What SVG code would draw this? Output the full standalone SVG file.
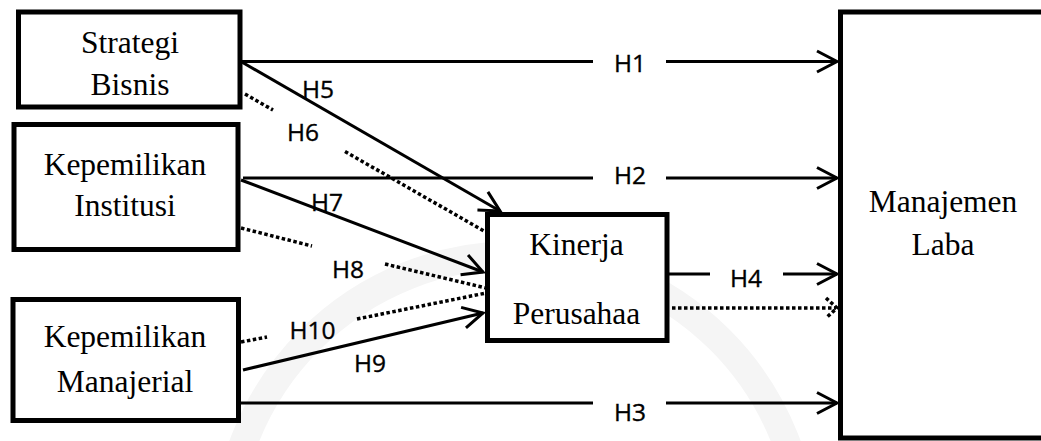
<svg xmlns="http://www.w3.org/2000/svg" width="1041" height="441" viewBox="0 0 1041 441">
  <style>
    .box { fill: #ffffff; stroke: #000000; stroke-width: 5; }
    .name { font-family: "Liberation Serif", "Times New Roman", serif; font-size: 31.5px; fill: #000000; text-anchor: middle; }
    .hyp { font-family: "Open Sans", "Liberation Sans", sans-serif; font-size: 24.5px; fill: #000000; stroke: #000000; stroke-width: 0.35px; text-anchor: middle; }
    .solid { fill: none; stroke: #000000; stroke-width: 3; }
    .dotted { fill: none; stroke: #000000; stroke-width: 3.5; stroke-dasharray: 3.5 2.5; }
  </style>
  <defs>
    <marker id="arrow" markerUnits="userSpaceOnUse" viewBox="-24 -14 28 28" refX="0" refY="0" markerWidth="28" markerHeight="28" orient="auto">
      <path d="M -20 -10.5 L 0 0 L -20 10.5" fill="none" stroke="#000000" stroke-width="3"/>
    </marker>
  </defs>

  <rect width="1041" height="441" fill="#ffffff"/>

  <!-- faint background seal -->
  <circle cx="515" cy="545" r="290" fill="none" stroke="#f5f5f5" stroke-width="28"/>

  <g id="connectors">
    <!-- H1 -->
    <line class="solid" x1="240" y1="61.5" x2="593" y2="61.5"/>
    <line class="solid" x1="666" y1="61.5" x2="837" y2="61.5" marker-end="url(#arrow)"/>
    <!-- H2 -->
    <line class="solid" x1="243" y1="178" x2="593" y2="178"/>
    <line class="solid" x1="666" y1="178" x2="837" y2="178" marker-end="url(#arrow)"/>
    <!-- H3 -->
    <line class="solid" x1="240" y1="403" x2="593" y2="403"/>
    <line class="solid" x1="666" y1="403" x2="837" y2="403" marker-end="url(#arrow)"/>
    <!-- H4 -->
    <line class="solid" x1="669" y1="274" x2="710" y2="274"/>
    <line class="solid" x1="783" y1="274" x2="837" y2="274" marker-end="url(#arrow)"/>
    <!-- moderated path to earnings management -->
    <line class="dotted" x1="672" y1="308" x2="836" y2="308"/>
    <path class="dotted" d="M 826 298 L 837 308 L 826 318"/>
    <!-- H5 -->
    <line class="solid" x1="240" y1="61" x2="500" y2="211" marker-end="url(#arrow)"/>
    <!-- H6 -->
    <line class="dotted" x1="245" y1="94" x2="273" y2="110"/>
    <line class="dotted" x1="345" y1="151.5" x2="484" y2="231"/>
    <!-- H7 -->
    <line class="solid" x1="241" y1="180" x2="483" y2="272" marker-end="url(#arrow)"/>
    <!-- H8 -->
    <line class="dotted" x1="241" y1="228" x2="312" y2="246"/>
    <line class="dotted" x1="385" y1="264" x2="486" y2="288"/>
    <!-- H9 -->
    <line class="solid" x1="243" y1="370" x2="483" y2="313" marker-end="url(#arrow)"/>
    <!-- H10 -->
    <line class="dotted" x1="241" y1="342" x2="267" y2="337"/>
    <line class="dotted" x1="357" y1="319" x2="486" y2="293"/>
  </g>

  <g id="strategi-bisnis">
    <rect class="box" x="18.5" y="12" width="221.5" height="95"/>
    <text class="name" x="130" y="53">Strategi</text>
    <text class="name" x="130" y="95">Bisnis</text>
  </g>

  <g id="kepemilikan-institusi">
    <rect class="box" x="14" y="124.5" width="224" height="125"/>
    <text class="name" x="125" y="175">Kepemilikan</text>
    <text class="name" x="125" y="216">Institusi</text>
  </g>

  <g id="kepemilikan-manajerial">
    <rect class="box" x="13" y="299.5" width="225.5" height="121"/>
    <text class="name" x="125" y="346.5">Kepemilikan</text>
    <text class="name" x="125" y="391.5">Manajerial</text>
  </g>

  <g id="kinerja-perusahaan">
    <rect class="box" x="487.5" y="214.5" width="179.5" height="126"/>
    <text class="name" x="576.5" y="255">Kinerja</text>
    <text class="name" x="576.5" y="324">Perusahaa</text>
  </g>

  <g id="manajemen-laba">
    <rect class="box" x="840.5" y="12" width="220" height="426"/>
    <text class="name" x="943" y="212">Manajemen</text>
    <text class="name" x="943" y="255">Laba</text>
  </g>

  <g id="labels">
    <text class="hyp" x="630" y="72">H1</text>
    <text class="hyp" x="630" y="184">H2</text>
    <text class="hyp" x="630" y="420.5">H3</text>
    <text class="hyp" x="746" y="286.5">H4</text>
    <text class="hyp" x="318" y="97.5">H5</text>
    <text class="hyp" x="303" y="140.5">H6</text>
    <text class="hyp" x="327" y="210.5">H7</text>
    <text class="hyp" x="348" y="277.5">H8</text>
    <text class="hyp" x="370" y="371.5">H9</text>
    <text class="hyp" x="312.5" y="338.5">H10</text>
  </g>
</svg>
